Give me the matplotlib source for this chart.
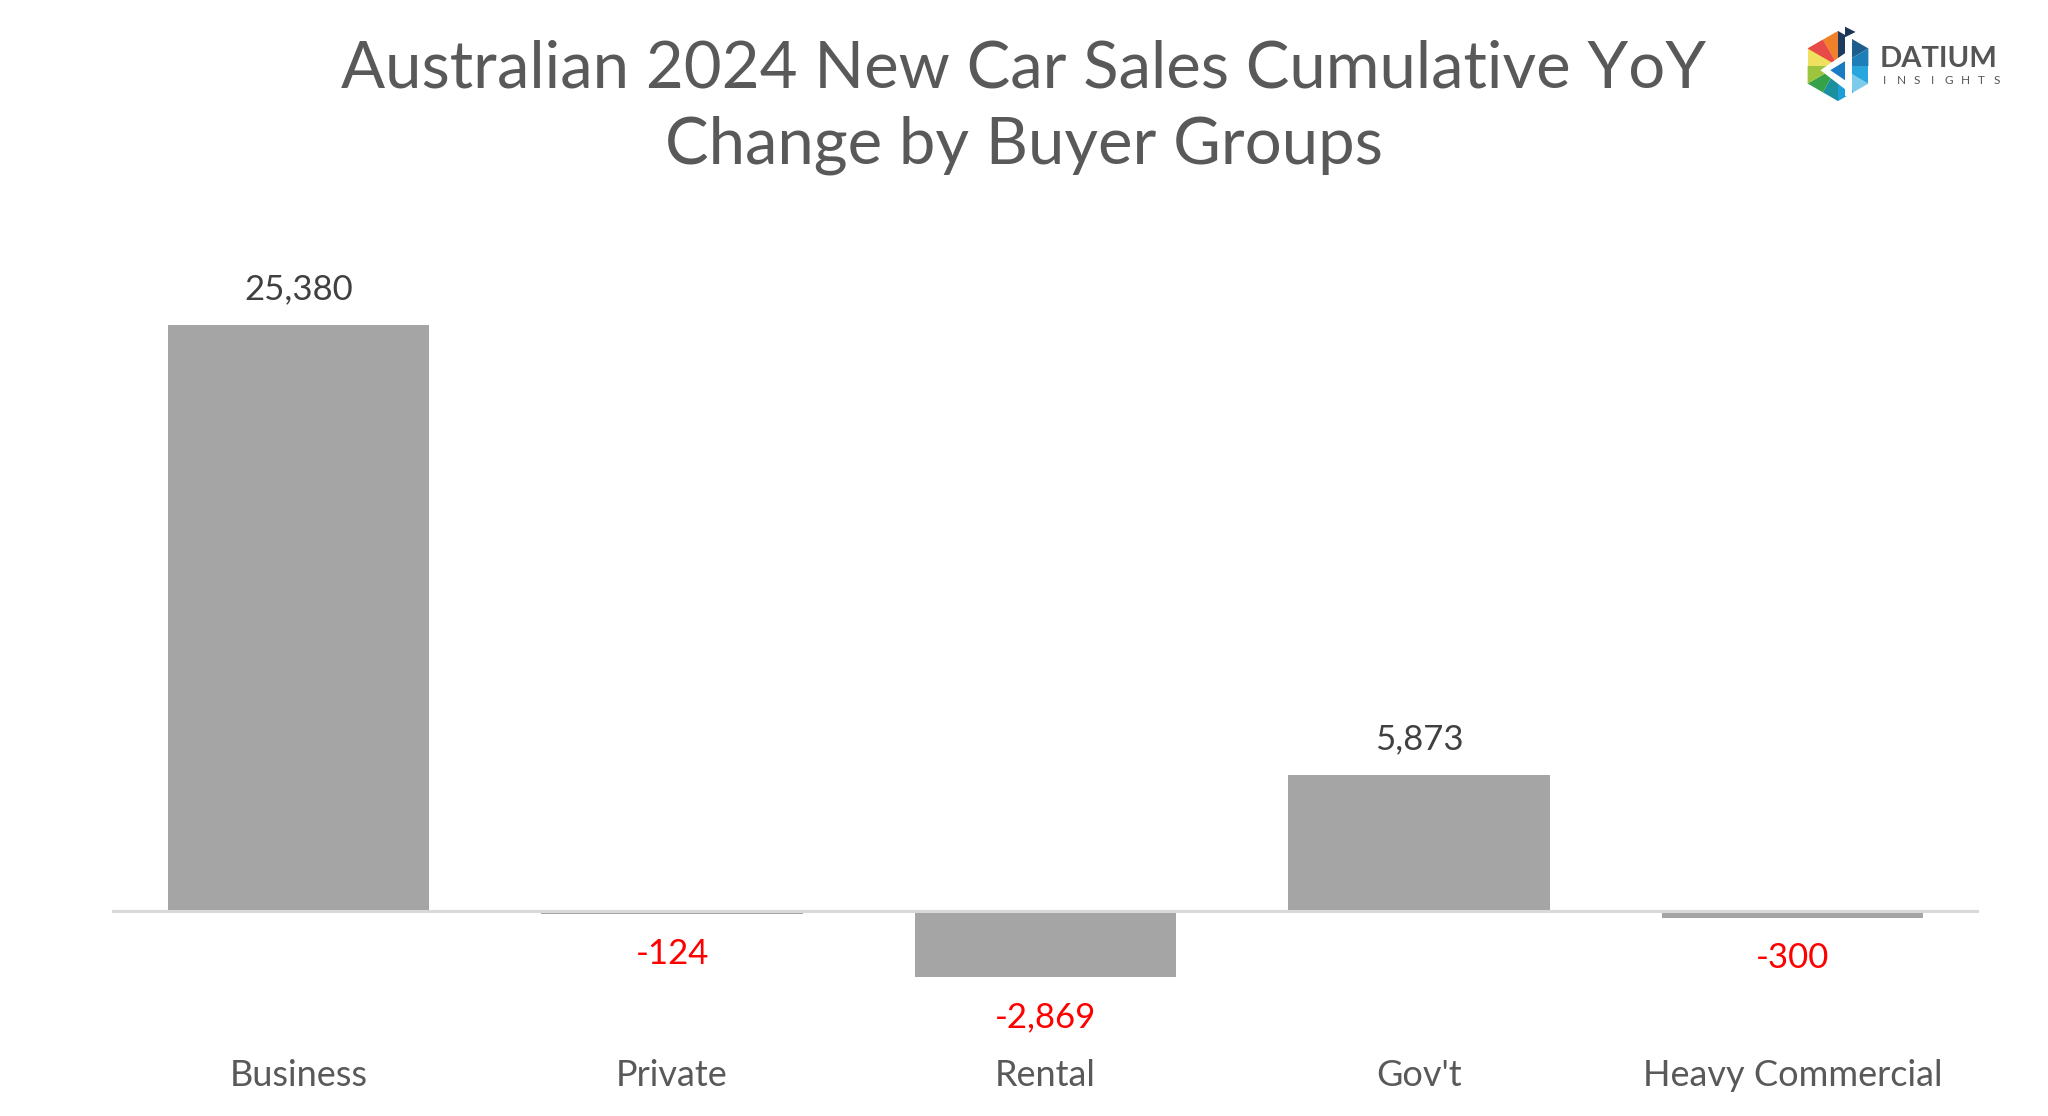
import matplotlib.pyplot as plt
import numpy as np
from matplotlib.patches import Polygon

plt.rcParams['font.family'] = ['Lato', 'DejaVu Sans']

categories = ['Business', 'Private', 'Rental', "Gov't", 'Heavy Commercial']
values = [25380, -124, -2869, 5873, -300]

bar_color = '#A5A5A5'
text_grey = '#595959'

fig = plt.figure(figsize=(20.48, 11.16), dpi=100)
fig.patch.set_facecolor('white')

# main bar chart
ax = fig.add_axes([0.0547, 0.0596, 0.9116, 0.7035])
x = np.arange(len(categories))
ax.bar(x, values, width=0.7, color=bar_color, zorder=2)
ax.axhline(0, color='#D9D9D9', linewidth=2.2, zorder=3)
ax.set_xlim(-0.5, len(categories) - 0.5)
ax.set_ylim(-6000, 28000)

for xi, v in zip(x, values):
    if v >= 0:
        ax.annotate(f'{v:,}', (xi, v), xytext=(0, 26), textcoords='offset points',
                    ha='center', va='center', fontsize=25, color='#404040')
    else:
        ax.annotate(f'{v:,}', (xi, v), xytext=(0, -29), textcoords='offset points',
                    ha='center', va='center', fontsize=25, color='#FF0000')

ax.set_xticks(x)
ax.set_xticklabels(categories, fontsize=26, color=text_grey)
ax.tick_params(axis='x', length=0, pad=7)
ax.set_yticks([])
for s in ax.spines.values():
    s.set_visible(False)

# title
fig.text(0.5, 1 - 69 / 1116, 'Australian 2024 New Car Sales Cumulative YoY',
         ha='center', va='center', fontsize=47, color=text_grey)
fig.text(0.5, 1 - 145 / 1116, 'Change by Buyer Groups',
         ha='center', va='center', fontsize=47, color=text_grey)

# logo
lax = fig.add_axes([1798 / 2048, 1 - 106 / 1116, 80 / 2048, 80 / 1116])
lax.set_xlim(-1.14, 1.14)
lax.set_ylim(-1.14, 1.14)
lax.set_aspect('equal')
lax.axis('off')
angles = np.deg2rad([90, 30, -30, -90, -150, 150])
verts = np.c_[np.cos(angles), np.sin(angles)]
tri_colors = ['#1F3A5F', '#1D5E8C', '#1E7FB8', '#2AA6DE', '#7CCBEB', '#1C9ED8',
              '#1A8F9E', '#35A24A', '#9CC43C', '#F0E060', '#F5B82E', '#F0802A']
k = 0
for i in range(6):
    a = verts[i]
    b = verts[(i + 1) % 6]
    m = (a + b) / 2
    for p, q in ((a, m), (m, b)):
        lax.add_patch(Polygon([(0, 0), p, q], closed=True, color=tri_colors[k], lw=0))
        k += 1
lax.add_patch(Polygon([(0, 0), verts[5], (verts[5] + verts[0]) / 2], closed=True,
                      color='#E84A4A', lw=0))
lax.add_patch(Polygon([(0.25, 0.4), (-0.5, -0.12), (0.25, -0.7)], closed=True, color='white', lw=0))
lax.add_patch(Polygon([(0.22, 0.15), (-0.22, -0.12), (0.22, -0.42)], closed=True, color='#1B7CC4', lw=0))
lax.add_patch(Polygon([(0.2, 0.85), (0.4, 0.85), (0.4, -0.85), (0.2, -0.85)], closed=True, color='white', lw=0))
lax.add_patch(Polygon([(0.2, 1.12), (0.5, 0.97), (0.2, 0.82)], closed=True, color='#1D3557', lw=0))

fig.text(1880 / 2048, 1 - 59 / 1116, 'DATIUM', ha='left', va='center',
         fontsize=21, fontweight='bold', color='#555555')
for i, ch in enumerate('INSIGHTS'):
    fig.text((1885 + i * 16) / 2048, 1 - 80 / 1116, ch, ha='center', va='center',
             fontsize=8.5, color='#555555')

fig.savefig('out.png', dpi=100)
